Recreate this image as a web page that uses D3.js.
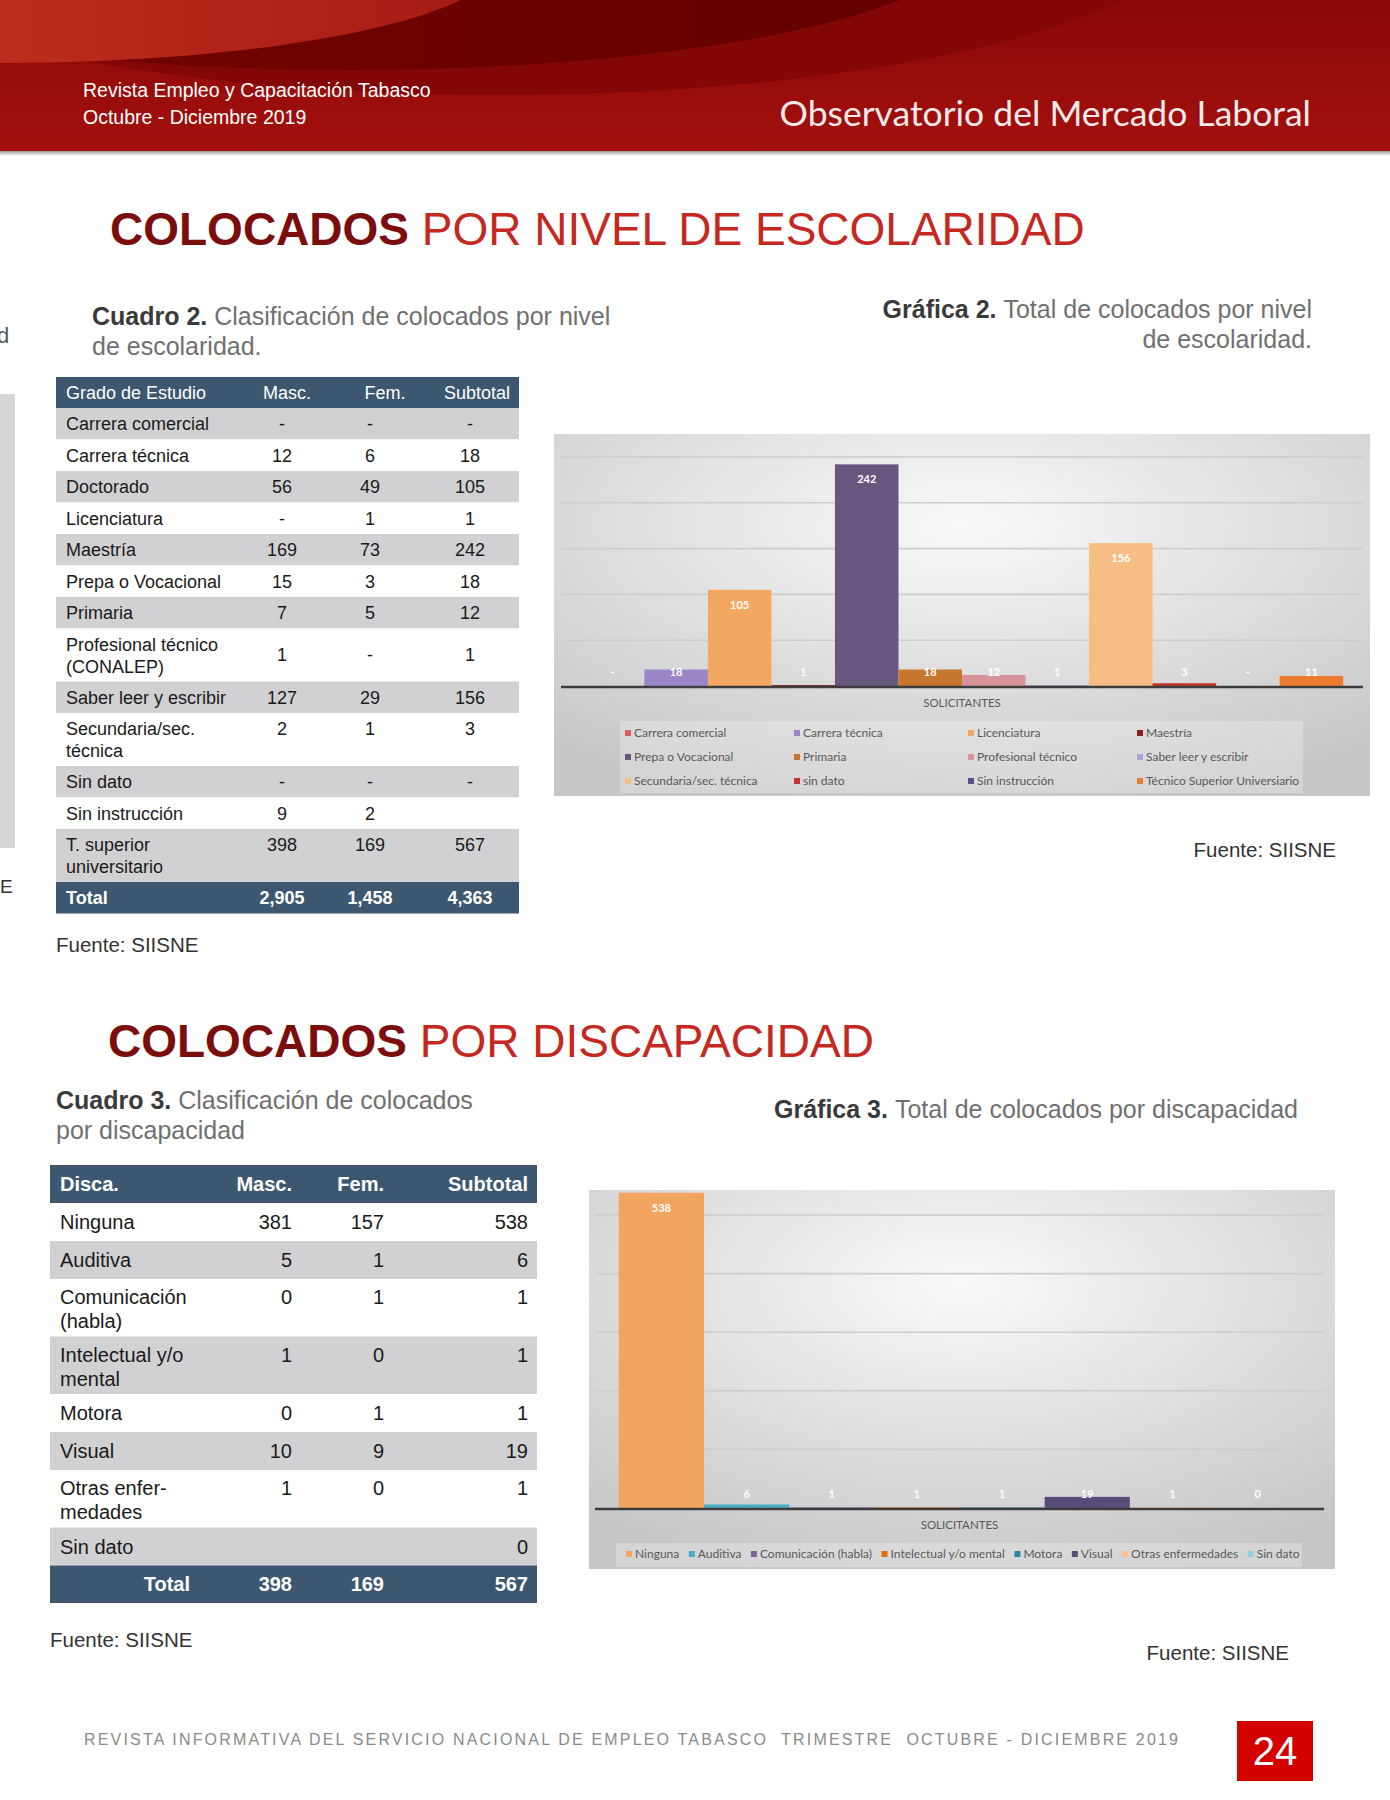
<!DOCTYPE html>
<html>
<head>
<meta charset="utf-8">
<script src="https://cdn.jsdelivr.net/npm/d3@7"></script>
<style>
  body { margin: 0; background: #fff; }
  svg { display: block; font-family: "Liberation Sans", Arial, sans-serif; }
</style>
</head>
<body>
<svg id="page" width="1390" height="1800"></svg>
<script>
/* =====================================================
   Página 24 - Observatorio del Mercado Laboral
   - cuadro 2 + gráfica 2 (escolaridad)
   - cuadro 3 + gráfica 3 (discapacidad)
   ===================================================== */

/* --- Datos: Cuadro 2 --- */
const t1Grados = ['Carrera comercial', 'Carrera técnica', 'Doctorado', 'Licenciatura', 'Maestría',
  'Prepa o Vocacional', 'Primaria', 'Profesional técnico\n(CONALEP)', 'Saber leer y escribir',
  'Secundaria/sec.\ntécnica', 'Sin dato', 'Sin instrucción', 'T. superior\nuniversitario'];
const t1Masc = ['-', '12', '56', '-', '169', '15', '7', '1', '127', '2', '-', '9', '398'];
const t1Fem  = ['-', '6', '49', '1', '73', '3', '5', '-', '29', '1', '-', '2', '169'];
const t1Sub  = ['-', '18', '105', '1', '242', '18', '12', '1', '156', '3', '-', '', '567'];
const t1Head = ['Grado de Estudio', 'Masc.', 'Fem.', 'Subtotal'];
const t1Total = ['Total', '2,905', '1,458', '4,363'];

/* --- Datos: Gráfica 2 --- */
const g2Categoria = 'SOLICITANTES';
const g2Series = ['Carrera comercial', 'Carrera técnica', 'Licenciatura', 'Maestría',
  'Prepa o Vocacional', 'Primaria', 'Profesional técnico', 'Saber leer y escribir',
  'Secundaria/sec. técnica', 'sin dato', 'Sin instrucción', 'Técnico Superior Universiario'];
const g2Valores = [null, 18, 105, 1, 242, 18, 12, 1, 156, 3, null, 11];
const g2Ticks = [50, 100, 150, 200, 250];

/* --- Datos: Cuadro 3 --- */
const t2Disca = ['Ninguna', 'Auditiva', 'Comunicación\n(habla)', 'Intelectual y/o\nmental', 'Motora',
  'Visual', 'Otras enfer-\nmedades', 'Sin dato'];
const t2Masc = ['381', '5', '0', '1', '0', '10', '1', ''];
const t2Fem  = ['157', '1', '1', '0', '1', '9', '0', ''];
const t2Sub  = ['538', '6', '1', '1', '1', '19', '1', '0'];
const t2Head = ['Disca.', 'Masc.', 'Fem.', 'Subtotal'];
const t2Total = ['Total', '398', '169', '567'];

/* --- Datos: Gráfica 3 --- */
const g3Categoria = 'SOLICITANTES';
const g3Series = ['Ninguna', 'Auditiva', 'Comunicación (habla)', 'Intelectual y/o mental',
  'Motora', 'Visual', 'Otras enfermedades', 'Sin dato'];
const g3Valores = [538, 6, 1, 1, 1, 19, 1, 0];
const g3Ticks = [100, 200, 300, 400, 500];

/* --- Paletas --- */
const g2Colores = ['#e05a57', '#9985c7', '#f3a862', '#8e1d1d', '#66577f', '#c7772d',
  '#d8939a', '#aba3d3', '#f6bd84', '#c2342b', '#5d4b8b', '#ec7b2f'];
const g3Colores = ['#f2a55f', '#4bacc6', '#8064a2', '#e46c0a', '#31859c', '#584b77', '#fac08f', '#93cddd'];
const HEAD_BG = '#3e5770';
const ROW_BG = '#d1d1d3';


const svg = d3.select('#page');
const defs = svg.append('defs');

/* --- Gradientes --- */
function linGrad(id, stops, horizontal) {
  const gr = defs.append('linearGradient').attr('id', id)
    .attr('x1', 0).attr('y1', 0).attr('x2', horizontal ? 1 : 0).attr('y2', horizontal ? 0 : 1);
  stops.forEach(([o, c]) => gr.append('stop').attr('offset', o).attr('stop-color', c));
}
linGrad('hdrBase', [['0%', '#8a0808'], ['100%', '#a3100d']], false);
linGrad('hdrDark', [['0%', '#7a0404'], ['60%', '#6a0101'], ['100%', '#640000']], true);
linGrad('hdrBright', [['0%', '#d83e27'], ['100%', '#a41a12']], true);
linGrad('shadow', [['0%', '#9a9a9a'], ['100%', '#ffffff']], false);

const bg = defs.append('radialGradient').attr('id', 'chartBg').attr('cx', '0.5').attr('cy', '0.25').attr('r', '0.8');
bg.append('stop').attr('offset', '0%').attr('stop-color', '#f9f9f9');
bg.append('stop').attr('offset', '100%').attr('stop-color', '#c6c6c6');


/* --- Encabezado --- */
svg.append('rect').attr('x', 0).attr('y', 0).attr('width', 1390).attr('height', 152).attr('fill', 'url(#hdrBase)');
svg.append('ellipse').attr('cx', 500).attr('cy', -80).attr('rx', 700).attr('ry', 175).attr('fill', '#830707');
svg.append('ellipse').attr('cx', 350).attr('cy', -60).attr('rx', 620).attr('ry', 130).attr('fill', 'url(#hdrDark)');
svg.append('ellipse').attr('cx', 0).attr('cy', -40).attr('rx', 500).attr('ry', 103).attr('fill', 'url(#hdrBright)');
svg.append('rect').attr('x', 0).attr('y', 151).attr('width', 1390).attr('height', 5).attr('fill', 'url(#shadow)');

svg.append('text').attr('x', 83).attr('y', 97).attr('font-size', 19.5).attr('fill', '#fff')
  .text('Revista Empleo y Capacitación Tabasco');
svg.append('text').attr('x', 83).attr('y', 124).attr('font-size', 19.5).attr('fill', '#fff')
  .text('Octubre - Diciembre 2019');
svg.append('text').attr('x', 1311).attr('y', 126).attr('text-anchor', 'end')
  .attr('font-family', 'Lato, sans-serif').attr('font-size', 35.5).attr('fill', '#f8eaea')
  .text('Observatorio del Mercado Laboral');

/* --- restos de la página anterior (borde izquierdo) --- */
svg.append('rect').attr('x', 0).attr('y', 394).attr('width', 15).attr('height', 454).attr('fill', '#d6d6d6');
svg.append('text').attr('x', -3).attr('y', 343).attr('font-size', 22).attr('fill', '#555').text('d');
svg.append('text').attr('x', 0).attr('y', 893).attr('font-size', 19).attr('fill', '#333').text('E');


/* --- Títulos y leyendas de cuadros --- */
function title(x, y, rest) {
  const t = svg.append('text').attr('x', x).attr('y', y).attr('font-size', 46);
  t.append('tspan').attr('font-weight', 'bold').attr('fill', '#7b0d0d').text('COLOCADOS');
  t.append('tspan').attr('fill', '#c4281f').text(' ' + rest);
}
title(110, 245, 'POR NIVEL DE ESCOLARIDAD');
title(108, 1057, 'POR DISCAPACIDAD');

function caption(x, y, anchor, bold, lines) {
  lines.forEach((line, i) => {
    const t = svg.append('text').attr('x', x).attr('y', y + i * 30)
      .attr('font-size', 25).attr('text-anchor', anchor);
    if (i === 0) t.append('tspan').attr('font-weight', 'bold').attr('fill', '#3a3a3a').text(bold + ' ');
    t.append('tspan').attr('fill', '#707070').text(line);
  });
}
caption(92, 325, 'start', 'Cuadro 2.', ['Clasificación de colocados por nivel', 'de escolaridad.']);
caption(1312, 318, 'end', 'Gráfica 2.', ['Total de colocados por nivel', 'de escolaridad.']);
caption(56, 1109, 'start', 'Cuadro 3.', ['Clasificación de colocados', 'por discapacidad']);
caption(774, 1118, 'start', 'Gráfica 3.', ['Total de colocados por discapacidad']);

function fuente(x, y, anchor) {
  svg.append('text').attr('x', x).attr('y', y).attr('text-anchor', anchor)
    .attr('font-size', 20.5).attr('fill', '#333').text('Fuente: SIISNE');
}
fuente(56, 952, 'start');
fuente(1336, 857, 'end');
fuente(50, 1647, 'start');
fuente(1289, 1660, 'end');


/* --- Tablas --- */
function drawTable(cfg) {
  const g = svg.append('g').attr('font-size', cfg.font);
  const base = d => d + cfg.font * 0.35;

  // filas con altura según número de líneas
  let y = cfg.top + cfg.headH;
  const rows = cfg.labels.map((label, i) => {
    const lines = label.split('\n');
    const h = lines.length > 1 ? cfg.rowH2 : cfg.rowH1;
    const r = { i, lines, y, h, vals: [cfg.masc[i], cfg.fem[i], cfg.sub[i]] };
    y += h;
    return r;
  });
  const totalTop = y;

  // fondos
  g.append('rect').attr('x', cfg.x0).attr('y', cfg.top).attr('width', cfg.x1 - cfg.x0)
    .attr('height', cfg.headH).attr('fill', HEAD_BG);
  g.selectAll('rect.row').data(rows).join('rect')
    .attr('x', cfg.x0).attr('y', d => d.y).attr('width', cfg.x1 - cfg.x0).attr('height', d => d.h)
    .attr('fill', d => (d.i % 2 === cfg.grayParity) ? ROW_BG : '#fff');
  g.append('rect').attr('x', cfg.x0).attr('y', totalTop).attr('width', cfg.x1 - cfg.x0)
    .attr('height', cfg.totalH).attr('fill', HEAD_BG);

  // encabezado
  const hy = base(cfg.top + cfg.headH / 2);
  g.append('text').attr('x', cfg.labelX).attr('y', hy).attr('fill', '#fff')
    .attr('font-weight', cfg.headWeight).text(cfg.head[0]);
  cfg.headCols.forEach((cx, k) => {
    g.append('text').attr('x', cx).attr('y', hy).attr('text-anchor', cfg.anchor)
      .attr('fill', '#fff').attr('font-weight', cfg.headWeight).text(cfg.head[k + 1]);
  });

  // etiquetas y valores
  rows.forEach(r => {
    r.lines.forEach((line, li) => {
      g.append('text').attr('x', cfg.labelX)
        .attr('y', base(r.lines.length > 1 ? r.y + cfg.first + li * cfg.lineH : r.y + r.h / 2))
        .attr('fill', '#1a1a1a').text(line);
    });
    const vy = (r.lines.length === 1 || cfg.centered.includes(r.i)) ? r.y + r.h / 2 : r.y + cfg.first;
    r.vals.forEach((v, k) => {
      g.append('text').attr('x', cfg.cols[k]).attr('y', base(vy)).attr('text-anchor', cfg.anchor)
        .attr('fill', '#1a1a1a').text(v);
    });
  });

  // total
  const ty = base(totalTop + cfg.totalH / 2);
  g.append('text').attr('x', cfg.totalX).attr('y', ty).attr('text-anchor', cfg.totalAnchor)
    .attr('fill', '#fff').attr('font-weight', 'bold').text(cfg.total[0]);
  cfg.cols.forEach((cx, k) => {
    g.append('text').attr('x', cx).attr('y', ty).attr('text-anchor', cfg.anchor)
      .attr('fill', '#fff').attr('font-weight', 'bold').text(cfg.total[k + 1]);
  });
}

drawTable({
  labels: t1Grados, masc: t1Masc, fem: t1Fem, sub: t1Sub, head: t1Head, total: t1Total,
  x0: 56, x1: 519, top: 377, headH: 31, rowH1: 31.5, rowH2: 53, totalH: 31.5,
  first: 16, lineH: 22, font: 18, labelX: 66, grayParity: 0,
  cols: [282, 370, 470], headCols: [287, 385, 477], anchor: 'middle', headWeight: 'normal',
  totalX: 66, totalAnchor: 'start', centered: [7]
});

drawTable({
  labels: t2Disca, masc: t2Masc, fem: t2Fem, sub: t2Sub, head: t2Head, total: t2Total,
  x0: 50, x1: 537, top: 1165, headH: 38, rowH1: 38, rowH2: 57.5, totalH: 37.5,
  first: 18, lineH: 24, font: 20, labelX: 60, grayParity: 1,
  cols: [292, 384, 528], headCols: [292, 384, 528], anchor: 'end', headWeight: 'bold',
  totalX: 190, totalAnchor: 'end', centered: []
});


/* --- Gráficas de columnas --- */
function drawColumns(cfg) {
  const g = svg.append('g').attr('font-family', 'Lato, sans-serif');
  const b = cfg.box;
  g.append('rect').attr('x', b.x).attr('y', b.y).attr('width', b.w).attr('height', b.h).attr('fill', 'url(#chartBg)');

  const y = d3.scaleLinear().domain([0, cfg.yMax]).range([cfg.base, cfg.yTop]);
  const x0 = d3.scaleBand().domain([cfg.category]).range(cfg.xRange).paddingInner(0).paddingOuter(cfg.padOuter);
  const x1 = d3.scaleBand().domain(cfg.series).range([0, x0.bandwidth()]);
  const data = cfg.series.map((s, i) => ({ s, v: cfg.values[i], c: cfg.colors[i] }));

  // líneas de cuadrícula
  g.selectAll('line.grid').data(cfg.ticks).join('line')
    .attr('x1', cfg.xRange[0]).attr('x2', cfg.xRange[1])
    .attr('y1', d => y(d)).attr('y2', d => y(d))
    .attr('stroke', '#cdcdcd').attr('stroke-width', 1.6);

  // columnas
  g.selectAll('rect.bar').data(data).join('rect')
    .attr('x', d => x0(cfg.category) + x1(d.s))
    .attr('y', d => y(d.v || 0))
    .attr('width', x1.bandwidth())
    .attr('height', d => cfg.base - y(d.v || 0))
    .attr('fill', d => d.c);

  // eje
  g.append('line').attr('x1', cfg.xRange[0]).attr('x2', cfg.xRange[1])
    .attr('y1', cfg.base + 1).attr('y2', cfg.base + 1)
    .attr('stroke', '#3c3c3c').attr('stroke-width', 2.6);

  // etiquetas de datos
  g.selectAll('text.lbl').data(data).join('text')
    .attr('x', d => x0(cfg.category) + x1(d.s) + x1.bandwidth() / 2)
    .attr('y', d => Math.min(y(d.v || 0) + 19, cfg.base - 10))
    .attr('text-anchor', 'middle').attr('font-size', 11).attr('font-weight', 'bold')
    .attr('fill', '#fff').text(d => d.v == null ? '-' : d.v);

  // categoría
  g.append('text').attr('x', x0(cfg.category) + x0.bandwidth() / 2).attr('y', cfg.catY)
    .attr('text-anchor', 'middle').attr('font-size', 11.5).attr('fill', '#595959').text(cfg.category);

  // leyenda
  const L = cfg.legend;
  g.append('rect').attr('x', L.box[0]).attr('y', L.box[1]).attr('width', L.box[2]).attr('height', L.box[3])
    .attr('fill', '#fff').attr('opacity', 0.25);
  let fx = L.x0;
  data.forEach((d, i) => {
    let lx, ly;
    if (L.cols) {
      lx = L.cols[i % L.cols.length];
      ly = L.rows[Math.floor(i / L.cols.length)];
    } else {
      lx = fx; ly = L.y;
    }
    g.append('rect').attr('x', lx).attr('y', ly - 3).attr('width', 6).attr('height', 6).attr('fill', d.c);
    const t = g.append('text').attr('x', lx + 9).attr('y', ly + 4).attr('font-size', 12)
      .attr('fill', '#595959').text(d.s);
    if (!L.cols) fx = lx + 9 + t.node().getComputedTextLength() + L.gap;
  });
}

drawColumns({
  box: { x: 554, y: 434, w: 816, h: 362 },
  category: g2Categoria, series: g2Series, values: g2Valores, colors: g2Colores, ticks: g2Ticks,
  yMax: 250, base: 686, yTop: 457, xRange: [561, 1363], padOuter: 0.026, catY: 707,
  legend: { box: [620, 721, 683, 72], cols: [625, 794, 968, 1137], rows: [733, 757, 781] }
});

drawColumns({
  box: { x: 589, y: 1190, w: 746, h: 379 },
  category: g3Categoria, series: g3Series, values: g3Valores, colors: g3Colores, ticks: g3Ticks,
  yMax: 500, base: 1508, yTop: 1215, xRange: [595, 1324], padOuter: 0.035, catY: 1529,
  legend: { box: [616, 1543, 686, 24], x0: 626, y: 1554, gap: 9.5 }
});


/* --- Pie de página --- */
svg.append('text').attr('x', 84).attr('y', 1745).attr('font-size', 16).attr('fill', '#8a8a8a')
  .attr('textLength', 1094).attr('lengthAdjust', 'spacing').style('white-space', 'pre')
  .text('REVISTA INFORMATIVA DEL SERVICIO NACIONAL DE EMPLEO TABASCO  TRIMESTRE  OCTUBRE - DICIEMBRE 2019');
svg.append('rect').attr('x', 1237).attr('y', 1721).attr('width', 76).attr('height', 60).attr('fill', '#d40000');
svg.append('text').attr('x', 1275).attr('y', 1765).attr('text-anchor', 'middle').attr('font-size', 40)
  .attr('fill', '#fff').text('24');
</script>
</body>
</html>
